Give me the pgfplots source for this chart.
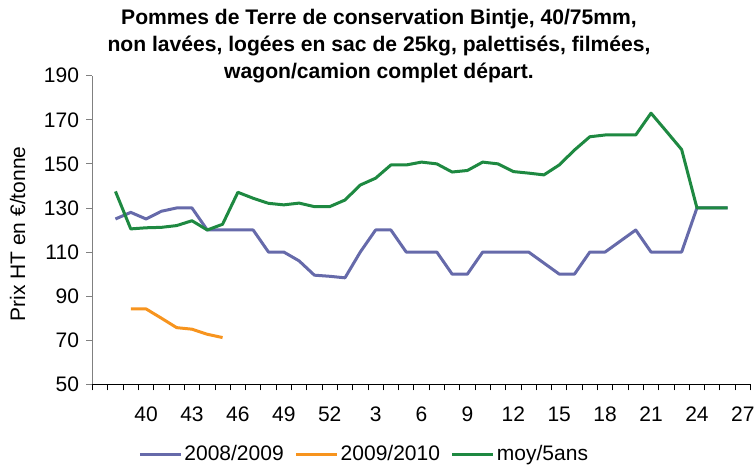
\documentclass[border=0pt]{standalone}
\usepackage{pgfplots}
\pgfplotsset{compat=1.18}
\usepackage{fontspec}
\setmainfont{Liberation Sans}
\definecolor{cblue}{RGB}{102,106,170}
\definecolor{corange}{RGB}{247,148,30}
\definecolor{cgreen}{RGB}{30,137,65}
\begin{document}
\begin{tikzpicture}
\path[use as bounding box] (-92.5pt,-80.7pt) rectangle (663.5pt,384.3pt);
\begin{axis}[
  at={(0pt,0pt)}, anchor=south west,
  scale only axis, width=658pt, height=308.6pt,
  xmin=0.5, xmax=43.5, ymin=50, ymax=190,
  axis x line*=bottom, axis y line*=left,
  x axis line style={black, line width=1pt, -},
  y axis line style={gray, line width=1pt, -},
  tick align=outside,
  xtick={1,4,...,43},
  xticklabels={,40,43,46,49,52,3,6,9,12,15,18,21,24,27},
  major x tick style={draw=none},
  minor xtick={0.5,1.5,...,43.5},
  minor x tick style={black, line width=0.8pt},
  minor tick length=6pt,
  ytick={50,70,...,190},
  y tick style={gray, line width=0.8pt},
  major tick length=6pt,
  tick label style={font=\fontsize{21}{21}\selectfont},
  xticklabel style={yshift=-13pt},
  yticklabel style={xshift=-4pt},
  /pgf/number format/assume math mode=true,
  legend style={draw=none, fill=none, at={(0.413,-0.226)}, anchor=center,
    legend columns=3, font=\fontsize{21}{21}\selectfont,
    /tikz/every even column/.append style={column sep=9pt}},
  legend image code/.code={\draw[#1, line width=3pt] (0pt,0pt) -- (41pt,0pt);},
  every axis plot/.append style={line width=3pt, line join=round},
]
\addplot[cblue] coordinates {
(2,125) (3,128) (4,125) (5,128.5) (6,130) (7,130) (8,120) (9,120) (10,120) (11,120)
(12,110) (13,110) (14,106) (15,99.5) (16,99) (17,98.3) (18,110) (19,120) (20,120)
(21,110) (22,110) (23,110) (24,100) (25,100) (26,110) (27,110) (28,110) (29,110)
(30,105) (31,100) (32,100) (33,110) (34,110) (35,115) (36,120) (37,110) (38,110)
(39,110) (40,130) (41,130) (42,130)};
\addlegendentry{2008/2009}
\addplot[corange] coordinates {
(3,84.2) (4,84.2) (5,80) (6,75.7) (7,75) (8,72.7) (9,71.2)};
\addlegendentry{2009/2010}
\addplot[cgreen] coordinates {
(2,137.5) (3,120.5) (4,121) (5,121.2) (6,122) (7,124.2) (8,120) (9,122.6) (10,137.1)
(11,134.4) (12,132.1) (13,131.4) (14,132.2) (15,130.6) (16,130.6) (17,133.6) (18,140.4)
(19,143.5) (20,149.5) (21,149.5) (22,150.8) (23,150) (24,146.3) (25,147) (26,150.8)
(27,150) (28,146.5) (29,145.8) (30,145) (31,149.5) (32,156.3) (33,162.3) (34,163.1)
(35,163.1) (36,163.1) (37,173) (38,164.8) (39,156.5) (40,130) (41,130) (42,130)};
\addlegendentry{moy/5ans}
\end{axis}
\node[align=center, inner sep=0pt, anchor=north, font=\bfseries\fontsize{21.1}{27}\selectfont]
  at (286.5pt,375.3pt) {Pommes de Terre de conservation Bintje, 40/75mm,\\ non lavées, logées en sac de 25kg, palettisés, filmées,\\ wagon/camion complet départ.};
\node[rotate=90, font=\fontsize{21}{21}\selectfont] at (-75pt,150.3pt) {Prix HT en €/tonne};
\end{tikzpicture}
\end{document}
